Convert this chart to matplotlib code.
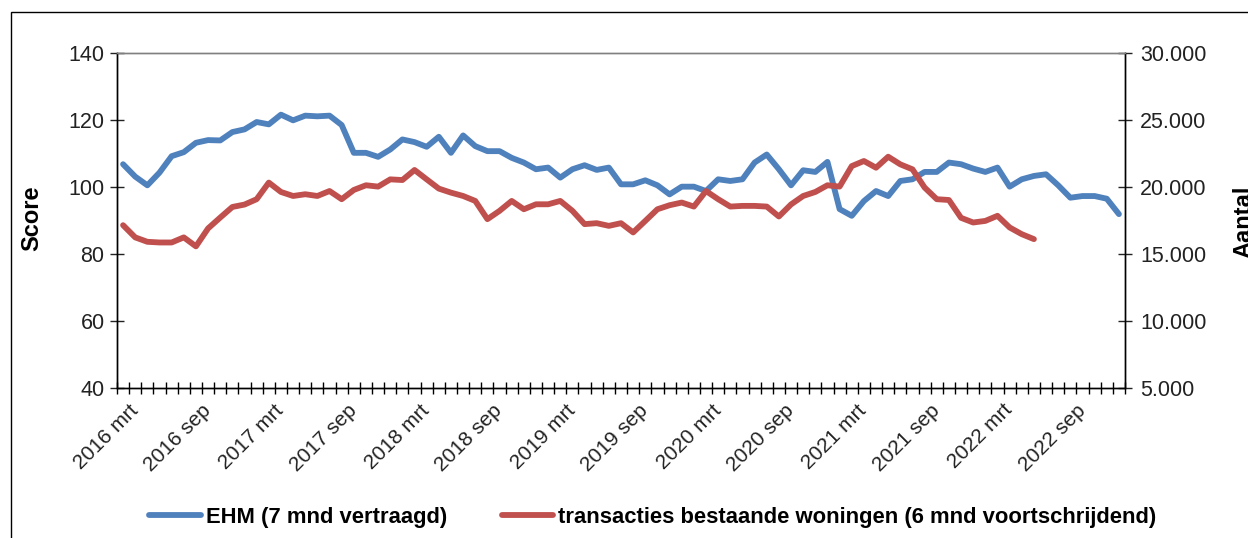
import matplotlib
matplotlib.use('Agg')
import matplotlib.pyplot as plt
from matplotlib.patches import Rectangle
from matplotlib.ticker import FuncFormatter, MultipleLocator
from matplotlib.transforms import ScaledTranslation

BLUE = '#4f81bd'
RED = '#c0504d'

plt.rcParams.update({
    'font.family': ['Liberation Sans', 'DejaVu Sans'],
    'font.size': 15,
})

# categories: monthly, 2016 mrt .. 2023 jan
MONTHS_NL = ['jan', 'feb', 'mrt', 'apr', 'mei', 'jun',
             'jul', 'aug', 'sep', 'okt', 'nov', 'dec']
categories = [f'{2016 + (m // 12)} {MONTHS_NL[m % 12]}' for m in range(2, 2 + 83)]

# EHM score (left axis), 7 months lagged
ehm = [106.8, 103.1, 100.5, 104.3, 109.2, 110.4, 113.2, 114.0, 113.9, 116.4,
       117.2, 119.4, 118.7, 121.6, 119.9, 121.3, 121.1, 121.3, 118.5, 110.2,
       110.2, 109.0, 111.2, 114.2, 113.4, 112.0, 115.0, 110.2, 115.4, 112.2,
       110.7, 110.7, 108.7, 107.3, 105.3, 105.8, 102.8, 105.3, 106.5, 105.1,
       105.8, 100.8, 100.8, 102.0, 100.5, 97.8, 100.1, 100.1, 98.8, 102.3,
       101.8, 102.3, 107.3, 109.7, 105.3, 100.5, 105.0, 104.5, 107.5, 93.4,
       91.4, 95.8, 98.8, 97.3, 101.8, 102.3, 104.5, 104.5, 107.3, 106.8,
       105.5, 104.5, 105.8, 100.1, 102.3, 103.3, 103.8, 100.5, 96.8, 97.3,
       97.3, 96.5, 91.9]

# transactions existing homes (right axis), 6-month moving
transacties = [17150, 16240, 15910, 15860, 15860, 16240, 15570, 16910, 17720, 18510,
               18690, 19090, 20330, 19630, 19330, 19460, 19330, 19700, 19090, 19780,
               20130, 20030, 20570, 20520, 21270, 20570, 19880, 19580, 19330, 18960,
               17600, 18220, 18960, 18340, 18710, 18710, 18960, 18220, 17230, 17300,
               17100, 17300, 16610, 17470, 18340, 18640, 18840, 18540, 19700, 19090,
               18540, 18590, 18590, 18540, 17800, 18700, 19330, 19630, 20130, 20030,
               21560, 21940, 21440, 22260, 21690, 21320, 19960, 19090, 19030, 17700,
               17350, 17470, 17850, 16980, 16480, 16110]

W, H = 1248, 538
fig = plt.figure(figsize=(W / 100, H / 100), dpi=100)

# outer chart border (clipped by the image edge on right/bottom)
fig.patches.append(Rectangle((11 / W, -0.2), 1.2, 1.2 - 12 / H, transform=fig.transFigure,
                             fill=False, edgecolor='#000000', lw=1.0))

ax = fig.add_axes([117 / W, 1 - 388 / H, (1125 - 117) / W, (388 - 53) / H])
ax2 = ax.twinx()

x_blue = list(range(len(ehm)))
x_red = list(range(len(transacties)))
ax.plot(x_blue, ehm, color=BLUE, lw=4.2, solid_joinstyle='round', solid_capstyle='round',
        label='EHM (7 mnd vertraagd)')
ax2.plot(x_red, transacties, color=RED, lw=4.2, solid_joinstyle='round', solid_capstyle='round',
         label='transacties bestaande woningen (6 mnd voortschrijdend)')

ax.set_xlim(-0.5, len(categories) - 0.5)
ax.set_ylim(40, 140)
ax2.set_ylim(5000, 30000)
ax.yaxis.set_major_locator(MultipleLocator(20))
ax2.yaxis.set_major_locator(MultipleLocator(5000))
ax2.yaxis.set_major_formatter(FuncFormatter(lambda v, p: f'{v:,.0f}'.replace(',', '.')))

for a in (ax, ax2):
    for s in a.spines.values():
        s.set_linewidth(1.0)
        s.set_color('#000000')
    a.spines['top'].set_color('#808080')
ax.tick_params(axis='y', direction='inout', length=10, width=1.0, pad=4, labelsize=15.5,
               colors='#222222')
ax2.tick_params(axis='y', direction='inout', length=10, width=1.0, pad=6, labelsize=15.5,
                colors='#222222')

# x axis: month boundaries as minor ticks, labels every 6 months
major = list(range(0, len(categories), 6))
ax.set_xticks(major)
ax.set_xticklabels([categories[i] for i in major])
ax.set_xticks([i - 0.5 for i in range(len(categories) + 1)], minor=True)
ax.tick_params(axis='x', which='major', length=0, pad=14, labelsize=15, colors='#222222')
ax.tick_params(axis='x', which='minor', direction='inout', length=8, width=1.0)
off = ScaledTranslation(12 / 100, 0, fig.dpi_scale_trans)
for lab in ax.get_xticklabels():
    lab.set_rotation(45)
    lab.set_rotation_mode('anchor')
    lab.set_ha('right')
    lab.set_va('center')
    lab.set_transform(lab.get_transform() + off)

fig.text(32 / W, 1 - 218 / H, 'Score', rotation=90, ha='center', va='center',
         fontsize=17, fontweight='bold')
fig.text(1232 / W, 1 - 222 / H, 'Aantal', rotation=90, ha='left', va='center',
         fontsize=17, fontweight='bold')

h1, l1 = ax.get_legend_handles_labels()
h2, l2 = ax2.get_legend_handles_labels()
fig.legend(h1 + h2, l1 + l2, loc='center', bbox_to_anchor=(653 / W, 1 - 517 / H), ncol=2,
           frameon=False, prop={'weight': 'bold', 'size': 15.8}, handlelength=2.35,
           handletextpad=0.22, columnspacing=2.5, borderaxespad=0)

fig.savefig('out.png', dpi=100)
